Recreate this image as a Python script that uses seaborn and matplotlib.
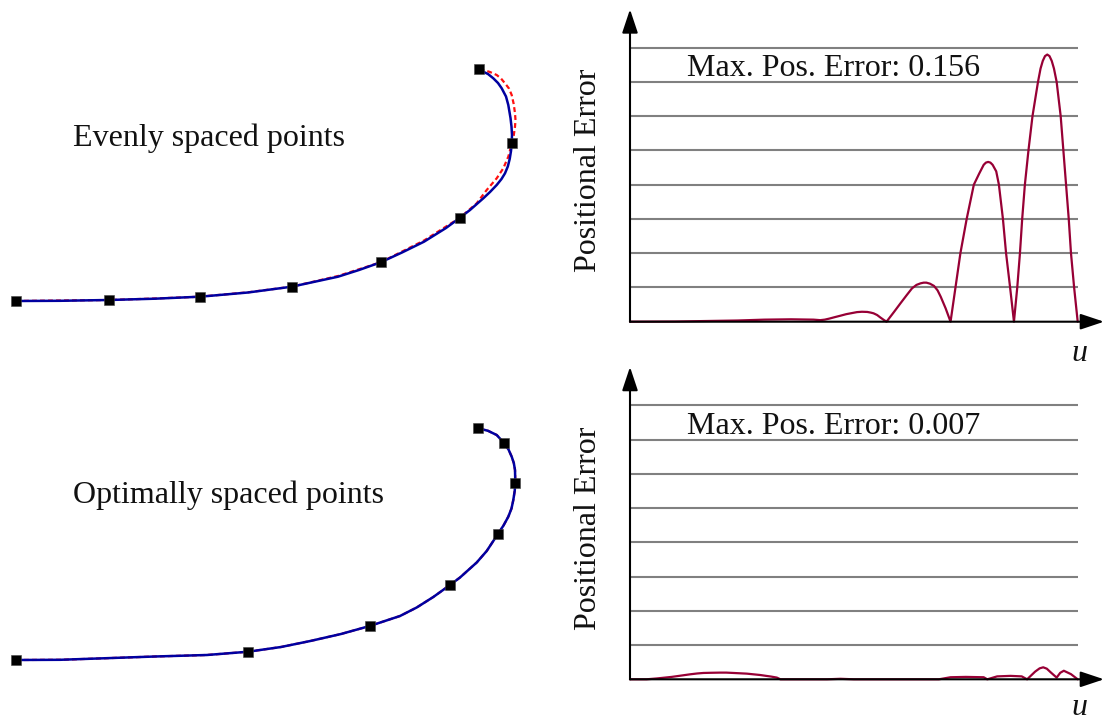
import matplotlib
matplotlib.use("Agg")
import matplotlib.pyplot as plt
import seaborn as sns

sns.set_style("white")
plt.rcParams["font.family"] = ["Liberation Serif", "DejaVu Serif"]

# ---------------------------------------------------------------
# Curve geometry (arbitrary length units, start point at origin)
# ---------------------------------------------------------------
# True curve for the evenly spaced case
true_even_x = [0.00, 0.44, 0.926, 1.39, 1.84, 2.32, 2.757, 3.22, 3.43, 3.647, 3.86,
               4.08, 4.30, 4.44, 4.54, 4.673, 4.74, 4.807, 4.855, 4.89, 4.918, 4.937,
               4.95, 4.957, 4.960, 4.955, 4.945, 4.923, 4.90, 4.857, 4.82, 4.773,
               4.72, 4.623]
true_even_y = [0.00, 0.002, 0.010, 0.023, 0.043, 0.085, 0.143, 0.243, 0.310, 0.387, 0.485,
               0.593, 0.730, 0.833, 0.910, 1.027, 1.090, 1.160, 1.220, 1.277, 1.345, 1.420,
               1.500, 1.577, 1.660, 1.743, 1.830, 1.960, 2.045, 2.127, 2.180, 2.227,
               2.270, 2.317]
# Approximation through the evenly spaced points
approx_even_x = [0.00, 0.926, 1.39, 1.84, 2.32, 2.757, 3.22, 3.647, 4.08, 4.44,
                 4.607, 4.707, 4.807, 4.873, 4.923, 4.959, 4.978, 4.99, 4.995, 4.99,
                 4.977, 4.957, 4.93, 4.89, 4.85, 4.807, 4.74, 4.673, 4.626]
approx_even_y = [0.00, 0.010, 0.025, 0.043, 0.087, 0.143, 0.250, 0.387, 0.605, 0.833,
                 0.977, 1.110, 1.227, 1.327, 1.443, 1.577, 1.660, 1.743, 1.810, 1.877,
                 1.970, 2.060, 2.125, 2.177, 2.225, 2.260, 2.290, 2.310, 2.317]
pts_even_x = [0.002, 0.926, 1.84, 2.757, 3.647, 4.442, 4.959, 4.626]
pts_even_y = [0.000, 0.010, 0.043, 0.143, 0.387, 0.833, 1.577, 2.317]

# True curve and its approximation for the optimally spaced case
true_opt_x = [0.00, 0.44, 0.874, 1.39, 1.909, 2.323, 2.65, 2.943, 3.25, 3.537, 3.84,
              4.007, 4.173, 4.34, 4.44, 4.607, 4.707, 4.817, 4.875, 4.923, 4.955,
              4.973, 4.987, 4.993, 4.99, 4.978, 4.957, 4.925, 4.883, 4.807, 4.72, 4.623]
true_opt_y = [0.00, 0.002, 0.017, 0.035, 0.050, 0.083, 0.130, 0.190, 0.260, 0.340, 0.440,
              0.525, 0.630, 0.750, 0.825, 0.975, 1.090, 1.257, 1.345, 1.433, 1.515,
              1.600, 1.690, 1.773, 1.900, 1.970, 2.033, 2.105, 2.167, 2.250, 2.292, 2.317]
approx_opt_x = true_opt_x
approx_opt_y = true_opt_y
pts_opt_x = [0.002, 2.323, 3.537, 4.34, 4.817, 4.993, 4.883, 4.623]
pts_opt_y = [0.000, 0.083, 0.340, 0.750, 1.257, 1.773, 2.167, 2.317]

# ---------------------------------------------------------------
# Positional error along the curve parameter u
# ---------------------------------------------------------------
u_even = [0.000, 0.100, 0.170, 0.240, 0.300, 0.360, 0.410, 0.425, 0.435, 0.445,
          0.458, 0.470, 0.483, 0.495, 0.507, 0.518, 0.530, 0.538, 0.544, 0.552,
          0.559, 0.566, 0.573,
          0.590, 0.604, 0.618, 0.630, 0.640, 0.649, 0.656, 0.662, 0.670, 0.679,
          0.687, 0.694, 0.705, 0.716,
          0.727, 0.738, 0.752, 0.768, 0.780, 0.790, 0.795, 0.800, 0.805, 0.810,
          0.818, 0.824, 0.833, 0.840, 0.849, 0.8576,
          0.865, 0.871, 0.876, 0.882, 0.890, 0.899, 0.9113, 0.917, 0.922, 0.927,
          0.932, 0.937, 0.942, 0.947, 0.953, 0.962, 0.968, 0.974, 0.980, 0.985,
          0.992, 1.000]
err_even = [0.0, 0.0001, 0.0004, 0.0007, 0.0012, 0.0014, 0.0012, 0.0009, 0.0012, 0.0018,
            0.0027, 0.0035, 0.0044, 0.0050, 0.0056, 0.0058, 0.0057, 0.0053, 0.0049, 0.0039,
            0.0025, 0.0012, 0.0,
            0.0058, 0.0107, 0.0155, 0.0195, 0.0215, 0.0224, 0.0228, 0.0228, 0.0222, 0.0209,
            0.0183, 0.0146, 0.0078, 0.0,
            0.020, 0.040, 0.060, 0.080, 0.0865, 0.0916, 0.0929, 0.0933, 0.0929, 0.0916,
            0.0878, 0.080, 0.060, 0.040, 0.020, 0.0,
            0.020, 0.040, 0.060, 0.080, 0.100, 0.120, 0.140, 0.1478, 0.1523, 0.1551,
            0.156, 0.1551, 0.1523, 0.1478, 0.140, 0.120, 0.100, 0.080, 0.060, 0.040,
            0.020, 0.0]

u_opt = [0.000, 0.037, 0.060, 0.093, 0.115, 0.134, 0.150, 0.164, 0.180, 0.201,
         0.215, 0.231, 0.246, 0.261, 0.276, 0.291, 0.304, 0.315, 0.328, 0.336,
         0.440, 0.470, 0.500, 0.690, 0.716, 0.750, 0.790, 0.798, 0.820, 0.850,
         0.875, 0.887, 0.905, 0.915, 0.923, 0.931, 0.940, 0.953, 0.961, 0.969,
         0.985, 1.000]
err_opt = [0.0, 0.0, 0.0005, 0.0014, 0.0022, 0.0029, 0.0034, 0.0037, 0.0038, 0.0039,
           0.0039, 0.0037, 0.0035, 0.0033, 0.0029, 0.0025, 0.0020, 0.0016, 0.0010, 0.0,
           0.0, 0.0003, 0.0, 0.0, 0.0012, 0.0014, 0.0012, 0.0, 0.0017, 0.0020,
           0.0017, 0.0, 0.0045, 0.0064, 0.0070, 0.0062, 0.0040, 0.0010, 0.0038, 0.0050,
           0.0030, 0.0]

grid_levels = [0.02, 0.04, 0.06, 0.08, 0.10, 0.12, 0.14, 0.16]

panel_titles = ["Evenly spaced points", "Optimally spaced points"]
max_labels = ["Max. Pos. Error: 0.156", "Max. Pos. Error: 0.007"]
y_label = "Positional Error"
x_label = "u"

# ---------------------------------------------------------------
# Figure layout (pixel based)
# ---------------------------------------------------------------
W, H = 1104, 723
fig = plt.figure(figsize=(W / 100, H / 100), dpi=100)
fig.patch.set_facecolor("white")


def px_axes(x0, y0, x1, y1):
    ax = fig.add_axes([x0 / W, 1 - y1 / H, (x1 - x0) / W, (y1 - y0) / H])
    ax.set_axis_off()
    return ax


def fig_text(px, py, s, **kw):
    fig.text(px / W, 1 - py / H, s, **kw)


BLUE = "#0000A0"
RED = "#FF1010"
ERR = "#970035"
GRID = "#808080"
FS = 23
TXT = "#111111"

# Left panels: curves with their interpolation points
curve_sets = [
    (true_even_x, true_even_y, approx_even_x, approx_even_y, pts_even_x, pts_even_y, 301, 146),
    (true_opt_x, true_opt_y, approx_opt_x, approx_opt_y, pts_opt_x, pts_opt_y, 660, 503.3),
]
for i, (tx, ty, ax_, ay_, px_, py_, base, text_y) in enumerate(curve_sets):
    top = base - 281
    ax = px_axes(0, top, 560, top + 320)
    sns.lineplot(x=ax_, y=ay_, ax=ax, sort=False, estimator=None, color=RED,
                 lw=1.6, linestyle=(0, (2.2, 1.4)), zorder=2)
    sns.lineplot(x=tx, y=ty, ax=ax, sort=False, estimator=None, color=BLUE,
                 lw=1.8, zorder=3)
    sns.scatterplot(x=px_, y=py_, ax=ax, marker="s", s=52, color="black",
                    edgecolor="#444444", linewidth=0.4, zorder=5)
    ax.set_xlim(-0.16, 5.44)
    ax.set_ylim(-0.39, 2.81)
    ax.set_axis_off()
    fig_text(73.4, text_y, panel_titles[i], fontsize=FS, ha="left",
             va="baseline", color=TXT)

# Right panels: positional error against u
U_PX = 447.7      # pixels per unit of u
E_PX = 1712.5     # pixels per unit of error
err_sets = [(u_even, err_even, 321.7, 361), (u_opt, err_opt, 679.3, None)]
for i, (u, e, y0, u_base) in enumerate(err_sets):
    ax = px_axes(630, y0 - 320, 1104, y0)
    ax.set_xlim(0, 474 / U_PX)
    ax.set_ylim(0, 320 / E_PX)
    ax.hlines(grid_levels, 0, 1.0, colors=GRID, lw=1.5, zorder=1)
    sns.lineplot(x=u, y=e, ax=ax, color=ERR, lw=1.6, estimator=None, zorder=3)
    for ln in ax.get_lines():
        ln.set_clip_on(False)
    arrow = dict(arrowstyle="-|>,head_length=0.72,head_width=0.24",
                 mutation_scale=20, lw=1.5, color="black", shrinkA=0, shrinkB=0)
    ax.annotate("", xy=(0, 0.1824), xytext=(0, 0), arrowprops=arrow,
                annotation_clip=False, zorder=4)
    ax.annotate("", xy=(474 / U_PX, 0), xytext=(0, 0), arrowprops=arrow,
                annotation_clip=False, zorder=4)
    ax.set_axis_off()
    fig_text(686.7, y0 - 245.7, max_labels[i], fontsize=FS, ha="left",
             va="baseline", color=TXT)
    fig_text(589, y0 - 151.2, y_label, fontsize=FS, rotation=90,
             ha="center", va="center", color=TXT)
    if u_base is not None:
        fig_text(1079, u_base, x_label, fontsize=FS, style="italic",
                 ha="center", va="baseline", color=TXT)
    else:
        fig_text(1079, 722, x_label, fontsize=FS, style="italic",
                 ha="center", va="bottom", color=TXT)

fig.savefig("out.png", dpi=100, facecolor="white")
